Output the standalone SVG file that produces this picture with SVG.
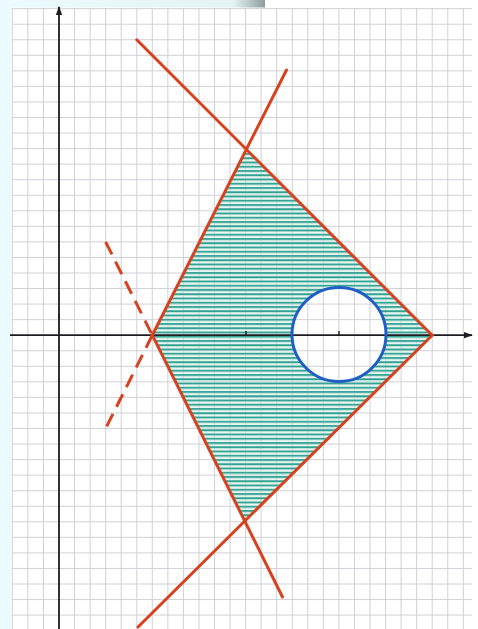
<svg xmlns="http://www.w3.org/2000/svg" width="478" height="629" viewBox="0 0 478 629">
  <style>
    .grid line { stroke: #d0d0d8; stroke-width: 1; }
    .axis { stroke: #1c1c22; stroke-width: 1.8; fill: none; }
    .tick { stroke: #1c1c22; stroke-width: 1.4; }
    .red { stroke: #d8401e; stroke-width: 3; stroke-linecap: round; fill: none; }
    .dash { stroke-dasharray: 14 8; stroke-linecap: butt; }
  </style>
  <defs>
    <pattern id="hatch" patternUnits="userSpaceOnUse" width="20" height="4.25">
      <rect width="20" height="4.25" fill="#d2efe8" fill-opacity="0.55"/>
      <line x1="0" y1="1" x2="20" y2="1" stroke="#33a291" stroke-width="1.9"/>
    </pattern>
    <mask id="hole" maskUnits="userSpaceOnUse" x="0" y="0" width="478" height="629">
      <rect width="478" height="629" fill="#ffffff"/>
      <circle cx="339" cy="334.5" r="47" fill="#000000"/>
    </mask>
    <linearGradient id="topfade" x1="0" y1="0" x2="1" y2="0">
      <stop offset="0" stop-color="#ecfbfd"/>
      <stop offset="0.88" stop-color="#e4f4f4"/>
      <stop offset="1" stop-color="#8e9c9c"/>
    </linearGradient>
    <marker id="arr" viewBox="0 0 10 10" refX="9" refY="5" markerWidth="5" markerHeight="6" orient="auto" markerUnits="strokeWidth">
      <path d="M0,1.5 L10,5 L0,8.5 Z" fill="#1c1c22"/>
    </marker>
  </defs>

  <rect width="478" height="629" fill="#ffffff"/>
  <rect x="0" y="0" width="11" height="629" fill="#ecfbfd"/>
  <rect x="0" y="0" width="265" height="7.5" fill="url(#topfade)"/>

  <g id="grid" class="grid">
    <line x1="12.35" y1="8" x2="12.35" y2="629"/>
    <line x1="27.9" y1="8" x2="27.9" y2="629"/>
    <line x1="43.45" y1="8" x2="43.45" y2="629"/>
    <line x1="59" y1="8" x2="59" y2="629"/>
    <line x1="74.55" y1="8" x2="74.55" y2="629"/>
    <line x1="90.1" y1="8" x2="90.1" y2="629"/>
    <line x1="105.65" y1="8" x2="105.65" y2="629"/>
    <line x1="121.2" y1="8" x2="121.2" y2="629"/>
    <line x1="136.75" y1="8" x2="136.75" y2="629"/>
    <line x1="152.3" y1="8" x2="152.3" y2="629"/>
    <line x1="167.85" y1="8" x2="167.85" y2="629"/>
    <line x1="183.4" y1="8" x2="183.4" y2="629"/>
    <line x1="198.95" y1="8" x2="198.95" y2="629"/>
    <line x1="214.5" y1="8" x2="214.5" y2="629"/>
    <line x1="230.05" y1="8" x2="230.05" y2="629"/>
    <line x1="245.6" y1="8" x2="245.6" y2="629"/>
    <line x1="261.15" y1="8" x2="261.15" y2="629"/>
    <line x1="276.7" y1="8" x2="276.7" y2="629"/>
    <line x1="292.25" y1="8" x2="292.25" y2="629"/>
    <line x1="307.8" y1="8" x2="307.8" y2="629"/>
    <line x1="323.35" y1="8" x2="323.35" y2="629"/>
    <line x1="338.9" y1="8" x2="338.9" y2="629"/>
    <line x1="354.45" y1="8" x2="354.45" y2="629"/>
    <line x1="370" y1="8" x2="370" y2="629"/>
    <line x1="385.55" y1="8" x2="385.55" y2="629"/>
    <line x1="401.1" y1="8" x2="401.1" y2="629"/>
    <line x1="416.65" y1="8" x2="416.65" y2="629"/>
    <line x1="432.2" y1="8" x2="432.2" y2="629"/>
    <line x1="447.75" y1="8" x2="447.75" y2="629"/>
    <line x1="463.3" y1="8" x2="463.3" y2="629"/>

    <line x1="12" y1="8.65" x2="472" y2="8.65"/>
    <line x1="12" y1="24.2" x2="472" y2="24.2"/>
    <line x1="12" y1="39.75" x2="472" y2="39.75"/>
    <line x1="12" y1="55.3" x2="472" y2="55.3"/>
    <line x1="12" y1="70.85" x2="472" y2="70.85"/>
    <line x1="12" y1="86.4" x2="472" y2="86.4"/>
    <line x1="12" y1="101.95" x2="472" y2="101.95"/>
    <line x1="12" y1="117.5" x2="472" y2="117.5"/>
    <line x1="12" y1="133.05" x2="472" y2="133.05"/>
    <line x1="12" y1="148.6" x2="472" y2="148.6"/>
    <line x1="12" y1="164.15" x2="472" y2="164.15"/>
    <line x1="12" y1="179.7" x2="472" y2="179.7"/>
    <line x1="12" y1="195.25" x2="472" y2="195.25"/>
    <line x1="12" y1="210.8" x2="472" y2="210.8"/>
    <line x1="12" y1="226.35" x2="472" y2="226.35"/>
    <line x1="12" y1="241.9" x2="472" y2="241.9"/>
    <line x1="12" y1="257.45" x2="472" y2="257.45"/>
    <line x1="12" y1="273" x2="472" y2="273"/>
    <line x1="12" y1="288.55" x2="472" y2="288.55"/>
    <line x1="12" y1="304.1" x2="472" y2="304.1"/>
    <line x1="12" y1="319.65" x2="472" y2="319.65"/>
    <line x1="12" y1="350.75" x2="472" y2="350.75"/>
    <line x1="12" y1="366.3" x2="472" y2="366.3"/>
    <line x1="12" y1="381.85" x2="472" y2="381.85"/>
    <line x1="12" y1="397.4" x2="472" y2="397.4"/>
    <line x1="12" y1="412.95" x2="472" y2="412.95"/>
    <line x1="12" y1="428.5" x2="472" y2="428.5"/>
    <line x1="12" y1="444.05" x2="472" y2="444.05"/>
    <line x1="12" y1="459.6" x2="472" y2="459.6"/>
    <line x1="12" y1="475.15" x2="472" y2="475.15"/>
    <line x1="12" y1="490.7" x2="472" y2="490.7"/>
    <line x1="12" y1="506.25" x2="472" y2="506.25"/>
    <line x1="12" y1="521.8" x2="472" y2="521.8"/>
    <line x1="12" y1="537.35" x2="472" y2="537.35"/>
    <line x1="12" y1="552.9" x2="472" y2="552.9"/>
    <line x1="12" y1="568.45" x2="472" y2="568.45"/>
    <line x1="12" y1="584" x2="472" y2="584"/>
    <line x1="12" y1="599.55" x2="472" y2="599.55"/>
    <line x1="12" y1="615.1" x2="472" y2="615.1"/>
  </g>

  <g id="region">
    <polygon points="152.3,335.2 245.6,148.6 432.2,335.2 245.6,521.8" fill="url(#hatch)" mask="url(#hole)"/>
  </g>

  <g id="axes">
    <line class="axis" x1="59" y1="629" x2="59" y2="7" marker-end="url(#arr)"/>
    <line class="axis" x1="10" y1="335.2" x2="472" y2="335.2" marker-end="url(#arr)"/>
    <line class="tick" x1="59" y1="314" x2="59" y2="319"/>
    <line class="tick" x1="246" y1="331" x2="246" y2="335"/>
    <line class="tick" x1="339" y1="331" x2="339" y2="335"/>
  </g>

  <g id="circle">
    <circle cx="339" cy="334.5" r="47" fill="none" stroke="#1f5ec6" stroke-width="3"/>
  </g>

  <g id="connectors">
    <line class="red" x1="136.75" y1="39.75" x2="432.2" y2="335.2"/>
    <line class="red" x1="432.2" y1="335.2" x2="138" y2="627"/>
    <line class="red" x1="152.3" y1="335.2" x2="286.5" y2="70"/>
    <line class="red" x1="152.3" y1="335.2" x2="282.5" y2="597"/>
    <line class="red dash" x1="105.65" y1="241.9" x2="152.3" y2="335.2"/>
    <line class="red dash" x1="152.3" y1="335.2" x2="105.65" y2="428.5"/>
  </g>
</svg>
